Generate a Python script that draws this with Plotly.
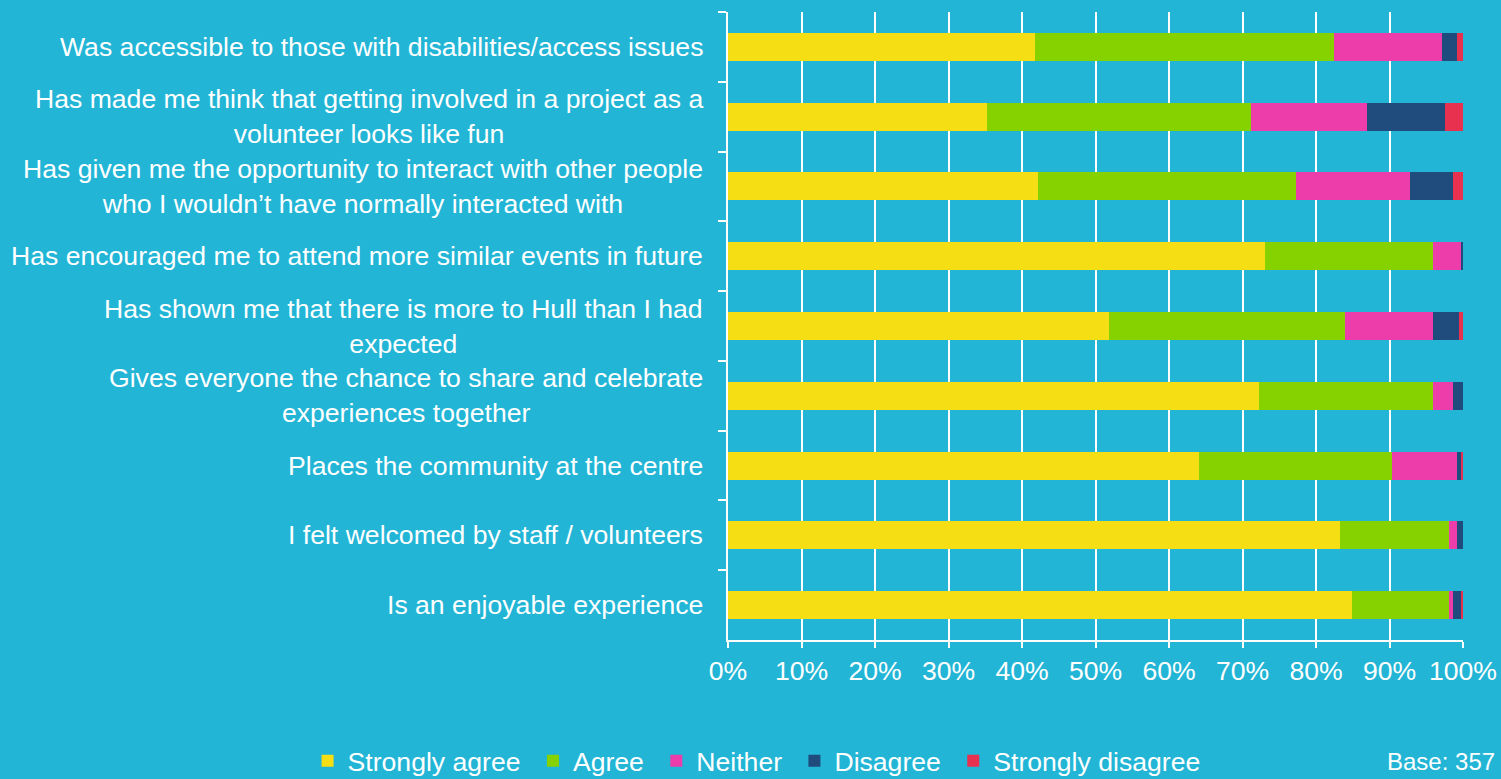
import plotly.graph_objects as go

categories = [
    "Was accessible to those with disabilities/access issues",
    "Has made me think that getting involved in a project as a<br>volunteer looks like fun",
    "Has given me the opportunity to interact with other people<br>who I wouldn\u2019t have normally interacted with",
    "Has encouraged me to attend more similar events in future",
    "Has shown me that there is more to Hull than I had<br>expected",
    "Gives everyone the chance to share and celebrate<br>experiences together",
    "Places the community at the centre",
    "I felt welcomed by staff / volunteers",
    "Is an enjoyable experience",
]

strongly_agree = [41.7, 35.2, 42.2, 73.1, 51.8, 72.3, 64.1, 83.2, 84.9]
agree = [40.7, 35.9, 35.1, 22.8, 32.2, 23.6, 26.3, 14.9, 13.2]
neither = [14.8, 15.8, 15.5, 3.9, 11.9, 2.7, 8.8, 1.1, 0.5]
disagree = [2.0, 10.6, 5.8, 0.2, 3.5, 1.4, 0.5, 0.8, 1.2]
strongly_disagree = [0.8, 2.5, 1.4, 0.0, 0.6, 0.0, 0.3, 0.0, 0.2]

series_names = ["Strongly agree", "Agree", "Neither", "Disagree", "Strongly disagree"]
series_values = [strongly_agree, agree, neither, disagree, strongly_disagree]
series_colors = ["#F6DE14", "#86D100", "#EC3DAA", "#1F4B7D", "#E8314F"]

BG = "#22B5D6"
FONT = "Liberation Sans, Arial, sans-serif"
FS = 26.6

fig = go.Figure()
for name, vals, col in zip(series_names, series_values, series_colors):
    fig.add_trace(go.Bar(
        y=categories, x=[v / 100 for v in vals], name=name + "\u00a0",
        orientation="h",
        marker=dict(color=col, line=dict(width=0)), hoverinfo="skip",
    ))

for cat in categories:
    fig.add_annotation(
        x=0, xref="paper", y=cat, yref="y", text=cat, showarrow=False,
        xanchor="right", yanchor="middle", align="center", xshift=-23,
        font=dict(family=FONT, size=FS, color="white"),
    )

fig.add_annotation(
    x=1.0463, xref="paper", y=-0.1935, yref="paper", text="Base: 357",
    showarrow=False, xanchor="right", yanchor="middle",
    font=dict(family=FONT, size=24, color="white"),
)

fig.update_layout(
    width=1501, height=779,
    barmode="stack", bargap=0.6,
    paper_bgcolor=BG, plot_bgcolor=BG,
    margin=dict(l=728, r=38, t=12, b=139, autoexpand=False),
    font=dict(family=FONT, size=FS, color="white"),
    showlegend=True,
    legend=dict(
        orientation="h", xref="paper", x=-0.572, xanchor="left",
        yref="paper", y=-0.1926, yanchor="middle",
        font=dict(family=FONT, size=FS, color="white"),
        bgcolor="rgba(0,0,0,0)", itemwidth=30, tracegroupgap=0,
        traceorder="normal",
    ),
    xaxis=dict(
        range=[0, 1], tickvals=[i / 10 for i in range(11)], tickformat=".0%",
        showgrid=True, gridcolor="white", gridwidth=1.5, zeroline=False,
        showline=True, linecolor="white", linewidth=2,
        ticks="outside", ticklen=6, tickcolor="white", tickwidth=2,
        tickfont=dict(family=FONT, size=FS, color="white"), fixedrange=True,
        automargin=False,
    ),
    yaxis=dict(
        type="category", categoryorder="array", categoryarray=categories,
        autorange="reversed", showticklabels=False,
        showgrid=False, zeroline=False,
        showline=True, linecolor="white", linewidth=2,
        ticks="outside", ticklen=8, tickcolor="white", tickwidth=2,
        tickson="boundaries", fixedrange=True, automargin=False,
    ),
)

fig.write_html(
    "out.html",
    config={"displayModeBar": False},
    post_script="document.body.style.margin='0';document.body.style.overflow='hidden';",
)
